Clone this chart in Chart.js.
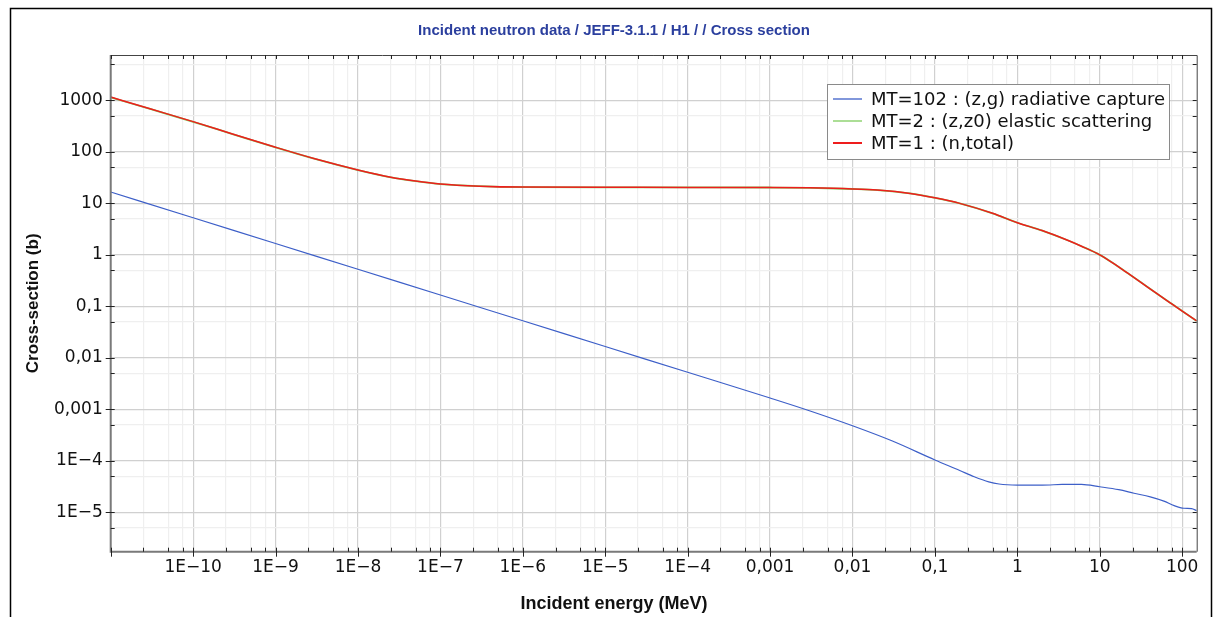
<!DOCTYPE html>
<html><head><meta charset="utf-8">
<script src="https://cdn.jsdelivr.net/npm/chart.js@4.4.0/dist/chart.umd.min.js"></script>
<style>html,body{margin:0;padding:0;background:#fff;overflow:hidden}canvas{display:block}</style>
</head><body>
<canvas id="c" width="1215" height="617"></canvas>
<script>
// ---- text ----
const chartTitle = 'Incident neutron data / JEFF-3.1.1 / H1 / / Cross section';
const xAxisTitle = 'Incident energy (MeV)';
const yAxisTitle = 'Cross-section (b)';
const seriesLabels = ['MT=102 : (z,g) radiative capture', 'MT=2 : (z,z0) elastic scattering', 'MT=1 : (n,total)'];

// ---- tick labels ----
const xTickValues = [1e-10, 1e-9, 1e-8, 1e-7, 1e-6, 1e-5, 1e-4, 1e-3, 1e-2, 1e-1, 1, 10, 100];
const xTickLabels = ['1E\u221210', '1E\u22129', '1E\u22128', '1E\u22127', '1E\u22126', '1E\u22125', '1E\u22124', '0,001', '0,01', '0,1', '1', '10', '100'];
const yTickValues = [1e-5, 1e-4, 1e-3, 1e-2, 1e-1, 1, 10, 100, 1000];
const yTickLabels = ['1E\u22125', '1E\u22124', '0,001', '0,01', '0,1', '1', '10', '100', '1000'];
const xMinorFactors = [2.5, 5, 7.5];
const yMinorFactors = [5];

// ---- data: MT=102 radiative capture ----
const energyCapture = [1e-11, 1e-10, 1e-9, 1e-8, 1e-7, 1e-6, 1e-5, 1e-4, 1e-3, 3e-3, 1e-2, 3e-2, 0.1, 0.2, 0.3, 0.45, 0.6, 1, 2, 3.5, 6, 10, 17, 26, 41, 60, 80, 105, 130, 150];
const captureXS = [16.6, 5.25, 1.66, 0.525, 0.166, 0.0525, 0.0166, 0.00525, 0.00166, 0.00094, 0.00048, 0.000245, 0.000104, 0.000065, 0.000049, 0.000039, 0.0000355, 0.0000339, 0.0000338, 0.0000348, 0.000035, 0.0000314, 0.0000275, 0.0000235, 0.00002, 0.0000165, 0.0000135, 0.000012, 0.0000118, 0.0000108];

// ---- data: MT=2 elastic ----
const energyElastic = [1e-11, 3e-11, 1e-10, 3e-10, 1e-9, 3e-9, 1e-8, 2.5e-8, 5e-8, 1e-7, 3e-7, 1e-6, 1e-5, 1e-4, 1e-3, 3e-3, 1e-2, 2e-2, 5e-2, 0.1, 0.2, 0.5, 1, 2, 4, 6, 10, 15, 20, 30, 50, 70, 100, 150];
const elasticXS = [1143, 680, 384, 222, 122, 73, 44.3, 32, 27, 23.7, 21.6, 20.7, 20.5, 20.4, 20.3, 20.0, 19.0, 18.1, 15.6, 12.8, 10.0, 6.4, 4.2, 2.96, 1.94, 1.47, 1.0, 0.665, 0.485, 0.31, 0.174, 0.12, 0.081, 0.052];

// ---- data: MT=1 total ----
const energyTotal = [1e-11, 3e-11, 1e-10, 3e-10, 1e-9, 3e-9, 1e-8, 2.5e-8, 5e-8, 1e-7, 3e-7, 1e-6, 1e-5, 1e-4, 1e-3, 3e-3, 1e-2, 2e-2, 5e-2, 0.1, 0.2, 0.5, 1, 2, 4, 6, 10, 15, 20, 30, 50, 70, 100, 150];
const totalXS = [1160, 686, 386, 223, 123, 73.5, 44.6, 32.2, 27.1, 23.8, 21.6, 20.7, 20.5, 20.4, 20.3, 20.0, 19.1, 18.1, 15.6, 12.8, 10.0, 6.4, 4.2, 2.96, 1.94, 1.47, 1.0, 0.665, 0.485, 0.31, 0.174, 0.12, 0.081, 0.052];

const colors = ['#3d5fc8', '#7fcc5e', '#ee1d1d'];

function pts(xs, ys) { return xs.map((x, i) => ({ x: x, y: ys[i] })); }
function isPow10(v) { const l = Math.log10(v); return Math.abs(l - Math.round(l)) < 1e-6; }
function buildLogTicks(min, max, factors) {
  const out = [];
  for (let n = Math.floor(Math.log10(min)); n <= Math.ceil(Math.log10(max)); n++) {
    [1].concat(factors).forEach(f => {
      const v = f * Math.pow(10, n);
      if (v >= min * 0.9999 && v <= max * 1.0001) out.push(v);
    });
  }
  return out;
}
function labelFor(v, vals, labs) {
  for (let i = 0; i < vals.length; i++) if (Math.abs(Math.log10(v) - Math.log10(vals[i])) < 1e-6) return labs[i];
  return '';
}

const X_MIN = 1e-11, X_MAX = 150, Y_MIN = 1.72e-6, Y_MAX = 7600;
const tickFont = { family: "'DejaVu Sans', sans-serif", size: 17 };

const decor = {
  id: 'decor',
  afterDatasetsDraw(chart) {
    const ctx = chart.ctx, a = chart.chartArea, xs = chart.scales.x, ys = chart.scales.y;
    ctx.save();
    // outer frame
    ctx.strokeStyle = '#000'; ctx.lineWidth = 1.5;
    ctx.beginPath(); ctx.moveTo(10.5, 617); ctx.lineTo(10.5, 8.5); ctx.lineTo(1211.5, 8.5); ctx.lineTo(1211.5, 617); ctx.stroke();
    // axes
    ctx.strokeStyle = '#7a7a7a'; ctx.lineWidth = 2;
    ctx.beginPath(); ctx.moveTo(a.left, a.top); ctx.lineTo(a.left, a.bottom); ctx.lineTo(a.right, a.bottom); ctx.stroke();
    ctx.strokeStyle = '#444'; ctx.lineWidth = 1;
    ctx.beginPath(); ctx.moveTo(a.left, a.top + 0.5); ctx.lineTo(a.right + 0.5, a.top + 0.5); ctx.lineTo(a.right + 0.5, a.bottom); ctx.stroke();
    // tick marks
    ctx.strokeStyle = '#222'; ctx.lineWidth = 1;
    ctx.beginPath();
    xs.ticks.forEach(t => {
      const p = Math.round(xs.getPixelForValue(t.value)) + 0.5;
      const maj = isPow10(t.value);
      ctx.moveTo(p, a.bottom - 4); ctx.lineTo(p, a.bottom + (maj ? 5 : 0));
      ctx.moveTo(p, a.top); ctx.lineTo(p, a.top + 4);
    });
    ys.ticks.forEach(t => {
      const p = Math.round(ys.getPixelForValue(t.value)) + 0.5;
      const maj = isPow10(t.value);
      ctx.moveTo(a.left - (maj ? 5 : 0), p); ctx.lineTo(a.left + 4, p);
      ctx.moveTo(a.right - 4, p); ctx.lineTo(a.right, p);
    });
    ctx.stroke();
    // titles
    ctx.fillStyle = '#2b3f9e';
    ctx.font = "bold 15px 'Liberation Sans Narrow', 'Liberation Sans', sans-serif";
    ctx.textAlign = 'center'; ctx.textBaseline = 'middle';
    ctx.fillText(chartTitle, 614, 31);
    ctx.fillStyle = '#111';
    ctx.font = "bold 18px 'Liberation Sans', Arial, sans-serif";
    ctx.fillText(xAxisTitle, 614, 604);
    // legend
    const lx = 827.5, ly = 84.5, lw = 342, lh = 75;
    ctx.fillStyle = '#fff'; ctx.fillRect(lx, ly, lw, lh);
    ctx.strokeStyle = '#8a8a8a'; ctx.lineWidth = 1; ctx.strokeRect(lx, ly, lw, lh);
    ctx.font = "18px 'DejaVu Sans', sans-serif"; ctx.textAlign = 'left'; ctx.fillStyle = '#111';
    const rows = [99, 121, 143];
    chart.data.datasets.forEach((ds, i) => {
      ctx.strokeStyle = colors[i]; ctx.lineWidth = i === 2 ? 2 : 1.3;
      ctx.beginPath(); ctx.moveTo(833, rows[i]); ctx.lineTo(862, rows[i]); ctx.stroke();
      ctx.fillText(ds.label, 871, rows[i] + 1);
    });
    ctx.restore();
  }
};

new Chart(document.getElementById('c'), {
  type: 'line',
  data: {
    datasets: [
      { label: seriesLabels[0], data: pts(energyCapture, captureXS), borderColor: colors[0], borderWidth: 1.2, order: 2 },
      { label: seriesLabels[1], data: pts(energyElastic, elasticXS), borderColor: colors[1], borderWidth: 1.8, order: 1 },
      { label: seriesLabels[2], data: pts(energyTotal, totalXS), borderColor: colors[2], borderWidth: 1.5, order: 0 }
    ]
  },
  options: {
    responsive: false, devicePixelRatio: 1, animation: false,
    elements: { point: { radius: 0 }, line: { cubicInterpolationMode: 'monotone', fill: false } },
    layout: { padding: { left: 0, top: 55, right: 18.3, bottom: 0 } },
    plugins: { legend: { display: false }, title: { display: false }, tooltip: { enabled: false } },
    scales: {
      x: {
        type: 'logarithmic', min: X_MIN, max: X_MAX,
        afterBuildTicks: s => { s.ticks = buildLogTicks(X_MIN, X_MAX, xMinorFactors).map(v => ({ value: v })); },
        afterFit: s => { s.height = 617 - 551.7; },
        ticks: { autoSkip: false, maxRotation: 0, minRotation: 0, padding: 6, color: '#111', font: tickFont,
          callback: v => labelFor(v, xTickValues, xTickLabels) },
        grid: { drawTicks: false, color: c => (c.tick && isPow10(c.tick.value)) ? '#d0d0d0' : '#efefef', lineWidth: 1.2 },
        border: { display: false }
      },
      y: {
        type: 'logarithmic', min: Y_MIN, max: Y_MAX,
        afterBuildTicks: s => { s.ticks = buildLogTicks(Y_MIN, Y_MAX, yMinorFactors).map(v => ({ value: v })); },
        afterFit: s => { s.width = 110.7; },
        ticks: { autoSkip: false, padding: 8, color: '#111', font: tickFont,
          callback: v => labelFor(v, yTickValues, yTickLabels) },
        grid: { drawTicks: false, color: c => (c.tick && isPow10(c.tick.value)) ? '#d0d0d0' : '#efefef', lineWidth: 1.2 },
        border: { display: false },
        title: { display: true, text: yAxisTitle, color: '#111', font: { family: "'Liberation Sans', Arial, sans-serif", size: 17, weight: 'bold' }, padding: { top: 23, bottom: 0 } }
      }
    }
  },
  plugins: [decor]
});
</script>
</body></html>
